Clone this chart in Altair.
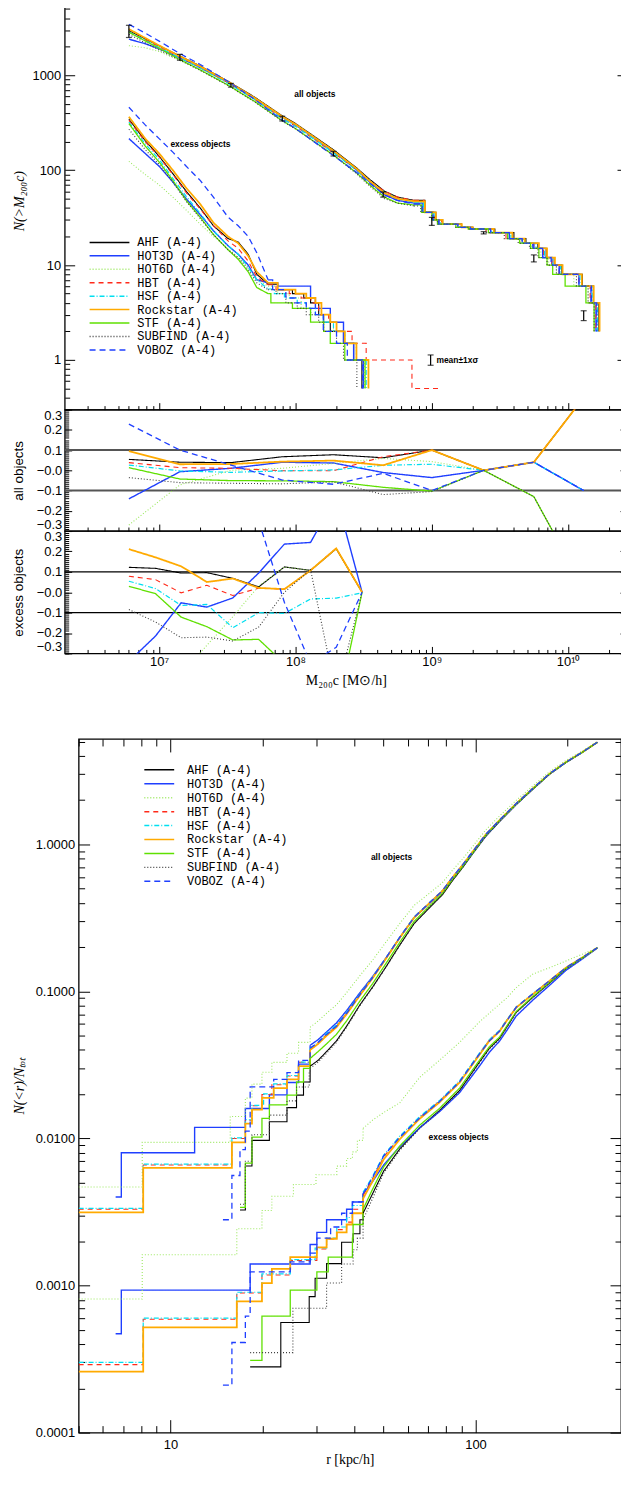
import altair as alt
import pandas as pd

FINDERS = ["AHF", "HOT3D", "HOT6D", "HBT", "HSF", "Rockstar", "STF", "SUBFIND", "VOBOZ"]

# ---------------- top figure: N(>M200c) ----------------
M_ALL_SMOOTH = [6.0e6, 7.9e6, 1.0e7, 1.4e7, 2.0e7, 3.2e7, 5.0e7, 7.9e7, 1.0e8, 1.26e8, 1.9e8, 2.8e8, 3.5e8, 4.5e8, 5.6e8, 7.4e8]
N_ALL_SMOOTH = {
    "AHF":      [2950, 2420, 2040, 1610, 1250, 865, 590, 378, 310, 247, 164, 106, 80, 60, 52, 48],
    "HOT3D":    [2400, 2150, 1900, 1540, 1205, 840, 575, 368, 300, 238, 157, 101, 75, 55, 48, 45],
    "HOT6D":    [2050, 1950, 1780, 1440, 1170, 830, 563, 360, 297, 236, 157, 103, 78, 59, 51, 46],
    "HBT":      [2900, 2370, 1990, 1570, 1215, 838, 560, 354, 290, 230, 152, 101, 77, 60, 52, 48],
    "HSF":      [2870, 2340, 1960, 1545, 1195, 822, 558, 354, 290, 230, 152, 100, 76, 57, 50, 46],
    "Rockstar": [3070, 2470, 2060, 1600, 1240, 856, 580, 372, 305, 242, 160, 104, 77, 57, 50, 47],
    "STF":      [2840, 2300, 1920, 1480, 1140, 788, 532, 336, 274, 218, 144, 94, 70, 52, 45, 43],
    "SUBFIND":  [2700, 2200, 1840, 1455, 1125, 780, 525, 332, 272, 216, 144, 92, 68, 50, 45, 42],
    "VOBOZ":    [3440, 2780, 2290, 1710, 1300, 860, 560, 340, 276, 217, 142, 95, 73, 55, 48, 44],
}
N_ALL_STEPS = [36, 30, 27, 25, 24, 22, 19, 17, 15, 12, 10, 8, 6, 4, 2]
M_ALL_STEPS = {
    "AHF":      [8.9e8, 1.07e9, 1.2e9, 1.65e9, 2.0e9, 2.9e9, 4.0e9, 4.9e9, 6.0e9, 6.9e9, 7.9e9, 9.0e9, 1.27e10, 1.53e10, 1.68e10],
    "HOT3D":    [8.6e8, 1.02e9, 1.12e9, 1.55e9, 1.9e9, 2.7e9, 3.7e9, 4.6e9, 5.5e9, 6.5e9, 7.6e9, 8.6e9, 1.2e10, 1.47e10, 1.6e10],
    "HOT6D":    [8.6e8, 1.03e9, 1.14e9, 1.58e9, 1.95e9, 2.6e9, 3.6e9, 4.5e9, 5.4e9, 6.3e9, 7.2e9, 8.2e9, 1.1e10, 1.4e10, 1.55e10],
    "HBT":      [8.8e8, 1.05e9, 1.18e9, 1.62e9, 1.98e9, 2.5e9, 3.5e9, 4.4e9, 5.6e9, 6.6e9, 7.6e9, 8.6e9, 1.2e10, 1.45e10, 1.6e10],
    "HSF":      [8.7e8, 1.04e9, 1.16e9, 1.6e9, 1.95e9, 2.75e9, 3.8e9, 4.7e9, 5.8e9, 6.7e9, 7.7e9, 8.8e9, 1.22e10, 1.5e10, 1.64e10],
    "Rockstar": [8.9e8, 1.07e9, 1.2e9, 1.66e9, 2.0e9, 2.85e9, 3.9e9, 4.8e9, 6.1e9, 7.0e9, 8.0e9, 9.1e9, 1.26e10, 1.54e10, 1.7e10],
    "STF":      [8.4e8, 1.0e9, 1.1e9, 1.5e9, 1.85e9, 2.6e9, 3.6e9, 4.4e9, 5.3e9, 6.1e9, 7.0e9, 7.7e9, 9.5e9, 1.35e10, 1.55e10],
    "SUBFIND":  [8.3e8, 1.0e9, 1.1e9, 1.5e9, 1.85e9, 2.5e9, 3.4e9, 4.3e9, 5.2e9, 6.0e9, 7.0e9, 8.2e9, 1.15e10, 1.4e10, 1.55e10],
    "VOBOZ":    [8.5e8, 1.02e9, 1.13e9, 1.56e9, 1.92e9, 2.7e9, 3.7e9, 4.6e9, 5.6e9, 6.5e9, 7.5e9, 8.6e9, 1.2e10, 1.48e10, 1.62e10],
}
M_EXC_SMOOTH = [6.0e6, 7.9e6, 1.0e7, 1.26e7, 1.58e7, 2.0e7, 2.5e7, 3.2e7, 3.8e7, 4.5e7, 5.2e7, 6.3e7]
N_EXC_SMOOTH = {
    "AHF":      [345, 205, 140, 92, 60, 40, 26, 19, 17.5, 13, 8, 6.3],
    "HOT3D":    [215, 150, 110, 75, 50, 34, 23, 16, 13, 10, 7, 6.5],
    "HOT6D":    [124, 90, 70, 52, 38, 27, 20, 15, 12, 9.5, 7, 6],
    "HBT":      [335, 200, 138, 90, 58, 39, 26, 18, 15, 11, 7.5, 6.2],
    "HSF":      [320, 190, 130, 82, 53, 35, 23, 16, 13, 9.5, 7, 5.6],
    "Rockstar": [365, 215, 150, 100, 65, 44, 28, 20, 17, 12.5, 8.5, 6.5],
    "STF":      [310, 180, 122, 78, 48, 32, 21, 14.5, 11.5, 8.5, 5.8, 5.0],
    "SUBFIND":  [270, 165, 115, 75, 47, 31, 21, 14.5, 12, 9, 6.5, 5.5],
    "VOBOZ":    [460, 300, 215, 155, 110, 78, 52, 32, 26, 20, 13.5, 7],
}
M_EXC_STEPS = {
    "AHF":      [7.4e7, 9.5e7, 1.15e8, 1.29e8, 1.48e8, 1.61e8, 1.8e8, 2.25e8, 2.67e8, 3.07e8],
    "HOT3D":    [7.4e7, 1.29e8, 1.4e8, 1.8e8, 2.25e8, 2.67e8, 3.15e8],
    "HOT6D":    [7.4e7, 9.0e7, 1.1e8, 1.3e8, 1.6e8, 1.9e8, 2.3e8, 2.8e8, 3.2e8],
    "HBT":      [7.2e7, 9.0e7, 1.1e8, 1.3e8, 1.48e8, 1.75e8, 2.0e8, 2.6e8, 3.3e8, 7.15e8, 1.14e9],
    "HSF":      [7.0e7, 8.3e7, 1.03e8, 1.2e8, 1.4e8, 1.6e8, 1.9e8, 2.3e8, 2.8e8, 3.3e8],
    "Rockstar": [7.4e7, 1.0e8, 1.2e8, 1.4e8, 1.55e8, 1.8e8, 2.0e8, 2.3e8, 2.8e8, 3.43e8],
    "STF":      [6.6e7, 9.5e7, 1.29e8, 1.61e8, 1.8e8, 2.3e8, 3.24e8],
    "SUBFIND":  [7.2e7, 8.5e7, 1.03e8, 1.2e8, 1.48e8, 1.61e8, 2.0e8, 2.25e8, 2.82e8],
    "VOBOZ":    [6.8e7, 8.5e7, 1.0e8, 1.2e8, 1.4e8, 1.6e8, 2.0e8, 2.4e8, 3.1e8],
}
N_EXC_STEPS = {
    "AHF":      [5.5, 5.0, 4.5, 4.0, 3.0, 2.5, 2.0, 1.5, 1.0, 0.5],
    "HOT3D":    [6.0, 4.5, 3.5, 2.5, 1.5, 1.0, 0.5],
    "HOT6D":    [5.0, 4.5, 3.5, 3.0, 2.5, 2.0, 1.5, 1.0, 0.5],
    "HBT":      [5.5, 5.0, 4.5, 4.0, 3.0, 2.5, 2.0, 1.5, 1.0, 0.5, 0.5],
    "HSF":      [5.0, 4.5, 4.0, 3.5, 3.0, 2.5, 2.0, 1.5, 1.0, 0.5],
    "Rockstar": [5.5, 5.0, 4.5, 4.0, 3.0, 2.5, 2.0, 1.5, 1.0, 0.5],
    "STF":      [4.0, 3.5, 2.5, 2.0, 1.5, 1.0, 0.5],
    "SUBFIND":  [5.0, 4.0, 3.5, 3.0, 2.5, 2.0, 1.5, 1.0, 0.5],
    "VOBOZ":    [5.5, 4.5, 4.0, 3.5, 3.0, 2.0, 1.5, 1.0, 0.5],
}
# mean +/- 1 sigma bars (last one is the key sample)
ERR_M = [6.0e6, 1.42e7, 3.36e7, 8.0e7, 1.9e8, 4.4e8, 1.0e9, 2.4e9, 5.6e9, 1.3e10, 9.8e8]
ERR_LO = [2500, 1440, 750, 330, 141, 52, 26.2, 21.3, 10.8, 2.6, 0.88]
ERR_HI = [3360, 1660, 821, 370, 158, 59, 31.8, 22.5, 12.8, 3.3, 1.13]

# residual panels
M_RES_ALL = [6.0e6, 1.42e7, 3.36e7, 8.0e7, 1.9e8, 4.4e8, 1.0e9, 2.4e9, 5.6e9, 1.3e10]
RES_ALL = {
    "AHF":      [0.054, 0.040, 0.038, 0.067, 0.077, 0.062, 0.10, 0.0, 0.04, 0.36],
    "HOT3D":    [-0.141, -0.007, 0.010, 0.040, 0.036, -0.011, -0.036, 0.0, 0.04, -0.10],
    "HOT6D":    [-0.27, -0.072, 0.0, 0.010, 0.034, 0.059, 0.043, 0.0, -0.13, -0.58],
    "HBT":      [0.038, 0.013, 0.010, -0.002, -0.002, 0.067, 0.10, 0.0, 0.04, 0.36],
    "HSF":      [0.026, -0.003, -0.010, -0.003, 0.002, 0.025, 0.030, 0.0, 0.04, -0.10],
    "Rockstar": [0.095, 0.030, 0.031, 0.043, 0.048, 0.025, 0.10, 0.0, 0.04, 0.36],
    "STF":      [0.013, -0.043, -0.051, -0.052, -0.056, -0.084, -0.103, 0.0, -0.13, -0.58],
    "SUBFIND":  [-0.036, -0.061, -0.064, -0.067, -0.057, -0.12, -0.105, 0.0, -0.13, -0.58],
    "VOBOZ":    [0.228, 0.10, 0.026, -0.048, -0.069, -0.015, -0.10, 0.0, 0.04, -0.10],
}
M_RES_EXC = [6.0e6, 9.4e6, 1.45e7, 2.24e7, 3.47e7, 5.37e7, 8.3e7, 1.29e8, 1.99e8, 3.08e8]
RES_EXC = {
    "AHF":      [0.122, 0.117, 0.094, 0.096, 0.068, 0.026, 0.124, 0.107, 0.213, 0.0],
    "HOT3D":    [-0.34, -0.215, -0.052, -0.073, -0.028, 0.094, 0.236, 0.244, 0.47, 0.0],
    "HOT6D":    [-0.65, -0.55, -0.40, -0.26, -0.12, 0.03, 0.124, 0.107, 0.213, 0.0],
    "HBT":      [0.078, 0.062, -0.003, 0.034, -0.016, 0.020, 0.015, 0.107, 0.215, 0.0],
    "HSF":      [0.054, 0.018, -0.065, -0.060, -0.174, -0.10, -0.104, -0.033, -0.029, -0.003],
    "Rockstar": [0.211, 0.171, 0.127, 0.050, 0.067, 0.021, 0.015, 0.107, 0.215, 0.0],
    "STF":      [0.029, -0.007, -0.122, -0.169, -0.234, -0.231, -0.35, -0.50, -0.60, 0.0],
    "SUBFIND":  [-0.085, -0.146, -0.223, -0.220, -0.239, -0.171, 0.0, 0.11, -0.50, 0.0],
    "VOBOZ":    [0.45, 0.50, 0.55, 0.60, 0.65, 0.35, -0.05, -0.35, -0.27, 0.0],
}
REF_LINES = [0.1, -0.1]
TOP_TEXT = ["all objects", "excess objects", "mean\u00b11x\u03c3"]
TOP_TEXT_M = [9.8e7, 1.21e7, 1.08e9]
TOP_TEXT_N = [630, 190, 1.0]

# ---------------- bottom figure: N(<r)/N_tot ----------------
R_ALL_TAIL = [28.7, 30.5, 32.5, 35, 37.8, 41.8, 46, 51, 56.5, 63, 72, 78, 84, 91, 98, 108, 120, 136, 154, 175, 198, 224, 251]
N_ALL_TAIL = {
    "AHF":      [0.031, 0.034, 0.039, 0.046, 0.058, 0.081, 0.107, 0.148, 0.207, 0.29, 0.385, 0.455, 0.565, 0.70, 0.865, 1.13, 1.43, 1.86, 2.36, 3.0, 3.6, 4.22, 4.94],
    "HOT3D":    [0.043, 0.047, 0.053, 0.061, 0.074, 0.098, 0.126, 0.170, 0.232, 0.318, 0.41, 0.478, 0.585, 0.715, 0.875, 1.14, 1.44, 1.87, 2.37, 3.0, 3.6, 4.22, 4.94],
    "HOT6D":    [0.057, 0.063, 0.071, 0.081, 0.098, 0.128, 0.163, 0.218, 0.29, 0.385, 0.48, 0.55, 0.665, 0.80, 0.97, 1.25, 1.56, 1.99, 2.49, 3.12, 3.72, 4.32, 5.0],
    "HBT":      [0.041, 0.045, 0.051, 0.058, 0.071, 0.095, 0.124, 0.169, 0.233, 0.32, 0.415, 0.485, 0.595, 0.73, 0.895, 1.165, 1.465, 1.895, 2.395, 3.02, 3.62, 4.23, 4.94],
    "HSF":      [0.041, 0.045, 0.052, 0.059, 0.072, 0.096, 0.125, 0.170, 0.235, 0.322, 0.417, 0.487, 0.597, 0.732, 0.897, 1.167, 1.467, 1.897, 2.397, 3.02, 3.62, 4.23, 4.94],
    "Rockstar": [0.040, 0.044, 0.050, 0.057, 0.070, 0.094, 0.123, 0.168, 0.232, 0.318, 0.413, 0.483, 0.593, 0.728, 0.893, 1.163, 1.463, 1.893, 2.393, 3.02, 3.62, 4.23, 4.94],
    "STF":      [0.035, 0.039, 0.044, 0.051, 0.063, 0.086, 0.113, 0.156, 0.216, 0.30, 0.395, 0.465, 0.575, 0.71, 0.875, 1.15, 1.45, 1.88, 2.38, 3.01, 3.61, 4.22, 4.94],
    "SUBFIND":  [0.030, 0.033, 0.038, 0.045, 0.057, 0.080, 0.106, 0.147, 0.205, 0.29, 0.39, 0.46, 0.57, 0.70, 0.87, 1.14, 1.44, 1.87, 2.37, 3.0, 3.6, 4.22, 4.94],
    "VOBOZ":    [0.041, 0.045, 0.051, 0.058, 0.071, 0.095, 0.124, 0.170, 0.234, 0.32, 0.415, 0.485, 0.595, 0.73, 0.895, 1.165, 1.465, 1.895, 2.395, 3.02, 3.62, 4.23, 4.94],
}
R_ALL_HEAD = {
    "AHF":      [16.9, 17.6, 18.5, 21.1, 24.1, 25.9, 27.3],
    "HOT3D":    [6.61, 6.90, 12.0, 17.6, 21.1, 24.1, 26.3],
    "HOT6D":    [5.0, 8.08, 15.7, 17.6, 18.5, 19.95, 21.5, 24.1, 26.3],
    "HBT":      [5.0, 8.14, 15.9, 17.6, 18.5, 19.95, 21.5, 24.1, 26.3],
    "HSF":      [5.0, 8.14, 15.9, 17.6, 18.5, 20.2, 21.8, 24.1, 26.3],
    "Rockstar": [5.0, 8.14, 15.9, 17.6, 18.5, 19.95, 21.8, 24.1, 26.3],
    "STF":      [16.9, 17.6, 18.5, 19.95, 21.1, 24.1, 25.9, 27.3],
    "SUBFIND":  [16.9, 17.6, 18.5, 21.1, 24.1, 25.9, 28.5],
    "VOBOZ":    [14.86, 15.9, 16.9, 17.6, 18.25, 21.8, 24.1, 26.3],
}
N_ALL_HEAD = {
    "AHF":      [0.00326, 0.0065, 0.0097, 0.0130, 0.0162, 0.0197, 0.0242],
    "HOT3D":    [0.0040, 0.0080, 0.0119, 0.0160, 0.0198, 0.0240, 0.032],
    "HOT6D":    [0.00468, 0.0094, 0.0141, 0.0188, 0.0234, 0.0282, 0.0329, 0.038, 0.045],
    "HBT":      [0.0033, 0.0066, 0.0100, 0.0133, 0.0167, 0.0199, 0.0232, 0.0266, 0.033],
    "HSF":      [0.00335, 0.0067, 0.0101, 0.0134, 0.0168, 0.0201, 0.0235, 0.0268, 0.033],
    "Rockstar": [0.00314, 0.0063, 0.0094, 0.0126, 0.0157, 0.0189, 0.0220, 0.0252, 0.031],
    "STF":      [0.0034, 0.0068, 0.0102, 0.0137, 0.0169, 0.0197, 0.0242, 0.030],
    "SUBFIND":  [0.00357, 0.0070, 0.0106, 0.0144, 0.018, 0.0224, 0.0282],
    "VOBOZ":    [0.0028, 0.0056, 0.0084, 0.0112, 0.0224, 0.0252, 0.028, 0.034],
}
R_EXC_TAIL = [42.8, 45.7, 50, 56.5, 65.6, 76.2, 88.7, 103, 111, 120, 126.5, 136, 154, 175, 198, 224, 251]
N_EXC_TAIL = {
    "AHF":      [0.0031, 0.0041, 0.0060, 0.0085, 0.0118, 0.0155, 0.0212, 0.033, 0.041, 0.048, 0.057, 0.072, 0.091, 0.114, 0.142, 0.168, 0.198],
    "HOT3D":    [0.0042, 0.0050, 0.0066, 0.0088, 0.0118, 0.0152, 0.0205, 0.031, 0.0385, 0.046, 0.054, 0.068, 0.087, 0.110, 0.139, 0.166, 0.197],
    "HOT6D":    [0.0117, 0.0132, 0.0150, 0.0175, 0.026, 0.034, 0.045, 0.062, 0.071, 0.082, 0.090, 0.106, 0.131, 0.145, 0.161, 0.179, 0.198],
    "HBT":      [0.0041, 0.0052, 0.0075, 0.0102, 0.0139, 0.0179, 0.0244, 0.0377, 0.0465, 0.054, 0.0634, 0.078, 0.096, 0.118, 0.145, 0.170, 0.198],
    "HSF":      [0.0043, 0.0054, 0.0077, 0.0104, 0.0141, 0.0181, 0.0247, 0.038, 0.047, 0.0545, 0.064, 0.0785, 0.0965, 0.118, 0.145, 0.170, 0.198],
    "Rockstar": [0.0039, 0.0050, 0.0072, 0.0099, 0.0136, 0.0176, 0.024, 0.037, 0.046, 0.0535, 0.063, 0.0775, 0.0955, 0.118, 0.145, 0.170, 0.198],
    "STF":      [0.0033, 0.0044, 0.0064, 0.0089, 0.0123, 0.0160, 0.022, 0.034, 0.042, 0.049, 0.058, 0.073, 0.092, 0.115, 0.143, 0.169, 0.198],
    "SUBFIND":  [0.0028, 0.0038, 0.0058, 0.0083, 0.0117, 0.0153, 0.021, 0.0325, 0.0405, 0.0475, 0.0565, 0.0715, 0.0905, 0.114, 0.142, 0.168, 0.198],
    "VOBOZ":    [0.0042, 0.0053, 0.0076, 0.0102, 0.0138, 0.0178, 0.0243, 0.0375, 0.046, 0.0538, 0.063, 0.078, 0.096, 0.118, 0.145, 0.170, 0.198],
}
R_EXC_HEAD = {
    "AHF":      [18.25, 23.0, 28.5, 29.8, 32.5, 36.4, 39.7, 41.8],
    "HOT3D":    [6.61, 6.90, 18.25, 28.7, 30.2, 32.5, 37.8, 39.5],
    "HOT6D":    [5.0, 8.08, 16.5, 19.95, 21.5, 25.3, 30.0, 35.1, 37.8, 39.5, 41.0],
    "HBT":      [5.0, 8.14, 16.5, 19.95, 24.7, 30.2, 32.5, 35.1, 37.8, 39.5],
    "HSF":      [5.0, 8.14, 16.5, 19.95, 24.7, 29.8, 32.5, 35.1, 37.8, 39.5],
    "Rockstar": [5.0, 8.14, 16.5, 19.95, 21.5, 24.7, 30.2, 32.5, 35.1, 37.8, 39.5],
    "STF":      [18.25, 19.95, 24.7, 30.2, 32.9, 39.5, 39.7],
    "SUBFIND":  [18.25, 25.2, 32.5, 36.4, 39.7, 41.0],
    "VOBOZ":    [14.86, 15.9, 17.6, 18.25, 24.7, 28.7, 30.2, 33.5, 36.4, 39.5],
}
N_EXC_HEAD = {
    "AHF":      [0.00028, 0.00056, 0.00084, 0.00112, 0.00141, 0.00197, 0.00225, 0.0028],
    "HOT3D":    [0.00047, 0.00093, 0.0014, 0.0019, 0.0023, 0.0028, 0.0033, 0.0037],
    "HOT6D":    [0.00081, 0.00162, 0.00243, 0.00324, 0.00405, 0.00486, 0.00567, 0.00648, 0.0073, 0.0081, 0.0097],
    "HBT":      [0.00029, 0.00059, 0.00089, 0.00118, 0.00148, 0.00177, 0.00207, 0.0024, 0.0027, 0.0033],
    "HSF":      [0.0003, 0.0006, 0.0009, 0.0012, 0.0015, 0.0018, 0.0021, 0.0025, 0.0029, 0.0035],
    "Rockstar": [0.00026, 0.00052, 0.00078, 0.00104, 0.0013, 0.00156, 0.00182, 0.00208, 0.0023, 0.0026, 0.0031],
    "STF":      [0.00031, 0.00062, 0.00093, 0.00124, 0.00156, 0.0021, 0.0026],
    "SUBFIND":  [0.00035, 0.0007, 0.00104, 0.0014, 0.00175, 0.0021],
    "VOBOZ":    [0.00021, 0.00041, 0.00062, 0.00124, 0.00145, 0.00166, 0.0021, 0.0025, 0.0031, 0.0037],
}
BOT_TEXT = ["all objects", "excess objects"]
BOT_TEXT_R = [45.4, 70.2]
BOT_TEXT_N = [0.826, 0.0103]

# ---------------- styles ----------------
COLORS = ["#000000", "#1f3fff", "#9be85e", "#ff2a1a", "#00dff0", "#ffaa00", "#5fe000", "#3c3c3c", "#1f3fff"]
DASHES = [[1, 0], [1, 0], [1, 2], [5, 4], [5, 2, 1, 2], [1, 0], [1, 0], [1, 2], [6, 4]]
LINE_W = {"AHF": 1.1, "HOT3D": 1.4, "HOT6D": 1.1, "HBT": 1.1, "HSF": 1.2, "Rockstar": 1.8,
          "STF": 1.3, "SUBFIND": 1.1, "VOBOZ": 1.3}
SANS = "Liberation Sans"
SERIF = "Liberation Serif"

color_scale = alt.Scale(domain=FINDERS, range=COLORS)
dash_scale = alt.Scale(domain=FINDERS, range=DASHES)

X_TOP = alt.Scale(type="log", domain=[2.03e6, 2.7e10], nice=False)
Y_MAIN = alt.Scale(type="log", domain=[0.3, 7600], nice=False)
Y_RES = alt.Scale(domain=[-0.3, 0.3], nice=False, zero=False)
X_BOT = alt.Scale(type="log", domain=[5, 300], nice=False)
Y_BOT = alt.Scale(type="log", domain=[1e-4, 5.2], nice=False)


def log_ticks(lo, hi, e0, e1):
    major = [10.0 ** e for e in range(e0, e1 + 1) if lo <= 10.0 ** e <= hi]
    minor = [round(k * 10.0 ** e, 8) for e in range(e0, e1 + 1) for k in range(2, 10)
             if lo <= k * 10.0 ** e <= hi]
    return major, minor


XT_MAJ, XT_MIN = log_ticks(2.03e6, 2.7e10, 6, 10)
YM_MAJ, YM_MIN = log_ticks(0.3, 7600, -1, 3)
XB_MAJ, XB_MIN = log_ticks(5, 300, 0, 2)
YB_MAJ, YB_MIN = log_ticks(1e-4, 5.2, -4, 0)
YR_MAJ = [-0.3, -0.2, -0.1, 0.0, 0.1, 0.2, 0.3]
YR_MIN = [round(-0.3 + 0.01 * k, 2) for k in range(61)]


def series_rows(finder, xs, ys, key):
    return [dict(finder=finder, x=x, y=y, key=key, i=i, w=LINE_W[finder])
            for i, (x, y) in enumerate(zip(xs, ys))]


def line_enc(xs, ys, legend):
    return dict(
        x=alt.X("x:Q", scale=xs, axis=None),
        y=alt.Y("y:Q", scale=ys, axis=None),
        color=alt.Color("finder:N", scale=color_scale, legend=legend),
        strokeDash=alt.StrokeDash("finder:N", scale=dash_scale, legend=legend),
        strokeWidth=alt.StrokeWidth("w:Q", scale=None, legend=None),
        detail="key:N",
        order="i:Q",
    )


def ax(orient, values, size, **kw):
    base = dict(orient=orient, values=values, tickSize=size, offset=-size, domain=False, grid=False,
                ticks=True, tickColor="black", tickWidth=1, labels=False, title=None,
                minExtent=0, maxExtent=200)
    base.update(kw)
    return alt.Axis(**base)


def axis_layer(xs, ys, x0, y0, xaxis, yaxis):
    d = pd.DataFrame({"ax": [x0], "ay": [y0]})
    return alt.Chart(d).mark_point(opacity=0, size=1).encode(
        x=alt.X("ax:Q", scale=xs, axis=xaxis),
        y=alt.Y("ay:Q", scale=ys, axis=yaxis),
    )


def legend_spec(x, y, path, offset, row_pad):
    return alt.Legend(title=None, orient="none", legendX=x, legendY=y, symbolType=path,
                      symbolSize=100, symbolStrokeWidth=1.5, labelFont="Liberation Mono",
                      labelFontSize=12, labelColor="black", labelExpr="datum.label + ' (A-4)'",
                      rowPadding=row_pad, labelOffset=offset, padding=0)


def spacer(w, h):
    d = pd.DataFrame({"s": [0]})
    return alt.Chart(d).mark_point(opacity=0, size=1).encode(
        x=alt.X("s:Q", axis=None), y=alt.Y("s:Q", axis=None)
    ).properties(width=w, height=h, view=alt.ViewBackground(stroke="transparent"))


# ---------------- build top main panel ----------------
smooth_rows, stair_rows = [], []
for f in FINDERS:
    smooth_rows += series_rows(f, M_ALL_SMOOTH, N_ALL_SMOOTH[f], f + "-all-s")
    smooth_rows += series_rows(f, M_EXC_SMOOTH, N_EXC_SMOOTH[f], f + "-exc-s")
    stair_rows += series_rows(f, [M_ALL_SMOOTH[-1]] + M_ALL_STEPS[f],
                              [N_ALL_SMOOTH[f][-1]] + N_ALL_STEPS, f + "-all-t")
    stair_rows += series_rows(f, [M_EXC_SMOOTH[-1]] + M_EXC_STEPS[f],
                              [N_EXC_SMOOTH[f][-1]] + N_EXC_STEPS[f], f + "-exc-t")
smooth_df = pd.DataFrame(smooth_rows)
stair_df = pd.DataFrame(stair_rows)
err_df = pd.DataFrame({"x": ERR_M, "lo": ERR_LO, "hi": ERR_HI})
cap_df = pd.DataFrame({"x": ERR_M + ERR_M, "y": ERR_LO + ERR_HI})
ttop_df = pd.DataFrame({"x": TOP_TEXT_M, "y": TOP_TEXT_N, "t": TOP_TEXT})

top_legend = legend_spec(39, 246, "M-4,0H4", 22, 1.5)

W_TOP, H_MAIN, H_R1, H_R2 = 565, 420, 122, 123

main = alt.layer(
    alt.Chart(smooth_df).mark_line(clip=True).encode(**line_enc(X_TOP, Y_MAIN, top_legend)),
    alt.Chart(stair_df).mark_line(clip=True, interpolate="step-after").encode(**line_enc(X_TOP, Y_MAIN, top_legend)),
    alt.Chart(err_df).mark_rule(color="black", strokeWidth=1.2).encode(
        x=alt.X("x:Q", scale=X_TOP, axis=None), y=alt.Y("lo:Q", scale=Y_MAIN, axis=None), y2="hi:Q"),
    alt.Chart(cap_df).mark_tick(orient="horizontal", size=6, thickness=1.2, color="black").encode(
        x=alt.X("x:Q", scale=X_TOP, axis=None), y=alt.Y("y:Q", scale=Y_MAIN, axis=None)),
    alt.Chart(ttop_df).mark_text(align="left", baseline="middle", font=SANS, fontSize=8.5,
                                 fontWeight="bold", color="black").encode(
        x=alt.X("x:Q", scale=X_TOP, axis=None), y=alt.Y("y:Q", scale=Y_MAIN, axis=None), text="t:N"),
    axis_layer(X_TOP, Y_MAIN, 1e8, 10, ax("bottom", XT_MAJ, 7),
               ax("left", YM_MAJ, 10, labels=True, format="d", labelFont=SANS, labelFontSize=13,
                  labelColor="black", labelPadding=4, title="N(>M\u2082\u2080\u2080c)", titleFont=SERIF,
                  titleFontStyle="italic", titleFontWeight="normal", titleFontSize=14, titleColor="black",
                  titleAngle=270, titleX=-55, titleY=H_MAIN / 2, titleAlign="center", titleBaseline="middle")),
    axis_layer(X_TOP, Y_MAIN, 1e8, 10, ax("bottom", XT_MIN, 4), ax("left", YM_MIN, 5)),
    axis_layer(X_TOP, Y_MAIN, 1e8, 10, ax("top", XT_MAJ, 7), ax("right", YM_MAJ, 10)),
    axis_layer(X_TOP, Y_MAIN, 1e8, 10, ax("top", XT_MIN, 4), ax("right", YM_MIN, 5)),
).properties(width=W_TOP, height=H_MAIN).resolve_axis(x="independent", y="independent")

RES_LABEL = "datum.value > 0.001 ? format(datum.value, '.1f') : '\u2212' + format(abs(datum.value), '.1f')"
XT_LABEL = ("'10' + ['\u2070','\u00b9','\u00b2','\u00b3','\u2074','\u2075','\u2076','\u2077','\u2078','\u2079',"
            "'\u00b9\u2070'][round(log(datum.value)/LN10)]")


def res_panel(mx, res, title, height, rule_color, rule_w, bottom_axis):
    rows = []
    for f in FINDERS:
        rows += series_rows(f, mx, res[f], f + "-r")
    df = pd.DataFrame(rows)
    rdf = pd.DataFrame({"v": REF_LINES})
    return alt.layer(
        alt.Chart(rdf).mark_rule(color=rule_color, strokeWidth=rule_w).encode(
            y=alt.Y("v:Q", scale=Y_RES, axis=None)),
        alt.Chart(df).mark_line(clip=True).encode(**line_enc(X_TOP, Y_RES, None)),
        axis_layer(X_TOP, Y_RES, 1e8, 0, bottom_axis,
                   ax("left", YR_MAJ, 7, labels=True, labelExpr=RES_LABEL, labelFont=SANS, labelFontSize=13,
                      labelColor="black", labelPadding=3, labelFlush=True, labelFlushOffset=0,
                      title=title, titleFont=SANS, titleFontWeight="normal",
                      titleFontSize=13.5, titleColor="black", titleAngle=270, titleX=-53, titleY=height / 2,
                      titleAlign="center", titleBaseline="middle")),
        axis_layer(X_TOP, Y_RES, 1e8, 0, ax("bottom", XT_MIN, 4), ax("left", YR_MIN, 4)),
        axis_layer(X_TOP, Y_RES, 1e8, 0, None, ax("right", YR_MAJ, 7)),
        axis_layer(X_TOP, Y_RES, 1e8, 0, None, ax("right", YR_MIN, 4)),
    ).properties(width=W_TOP, height=height).resolve_axis(x="independent", y="independent")


res_all = res_panel(M_RES_ALL, RES_ALL, "all objects", H_R1, "#555555", 2.0, ax("bottom", XT_MAJ, 7))
res_exc = res_panel(M_RES_EXC, RES_EXC, "excess objects", H_R2, "black", 1.3,
                    ax("bottom", XT_MAJ, 7, labels=True, labelExpr=XT_LABEL, labelFont=SANS, labelFontSize=13,
                       labelColor="black", labelPadding=2, title="M\u2082\u2080\u2080c [M\u2299/h]", titleFont=SERIF,
                       titleFontWeight="normal", titleFontSize=14, titleColor="black", titlePadding=5))

# ---------------- bottom figure ----------------
step_rows, tail_rows = [], []
for f in FINDERS:
    step_rows += series_rows(f, R_ALL_HEAD[f] + [R_ALL_TAIL[0]], N_ALL_HEAD[f] + [N_ALL_TAIL[f][0]], f + "-a-h")
    step_rows += series_rows(f, R_EXC_HEAD[f] + [R_EXC_TAIL[0]], N_EXC_HEAD[f] + [N_EXC_TAIL[f][0]], f + "-e-h")
    tail_rows += series_rows(f, R_ALL_TAIL, N_ALL_TAIL[f], f + "-a-t")
    tail_rows += series_rows(f, R_EXC_TAIL, N_EXC_TAIL[f], f + "-e-t")
step_df = pd.DataFrame(step_rows)
tail_df = pd.DataFrame(tail_rows)
tbot_df = pd.DataFrame({"x": BOT_TEXT_R, "y": BOT_TEXT_N, "t": BOT_TEXT})

W_BOT, H_BOT = 545, 697
bot_legend = legend_spec(75, 25, "M-3,0H3", 22, 2.0)

bottom = alt.layer(
    alt.Chart(step_df).mark_line(clip=True, interpolate="step-after").encode(**line_enc(X_BOT, Y_BOT, bot_legend)),
    alt.Chart(tail_df).mark_line(clip=True).encode(**line_enc(X_BOT, Y_BOT, bot_legend)),
    alt.Chart(tbot_df).mark_text(align="left", baseline="middle", font=SANS, fontSize=8.5,
                                 fontWeight="bold", color="black").encode(
        x=alt.X("x:Q", scale=X_BOT, axis=None), y=alt.Y("y:Q", scale=Y_BOT, axis=None), text="t:N"),
    axis_layer(X_BOT, Y_BOT, 20, 0.01,
               ax("bottom", XB_MAJ, 13, labels=True, format="d", labelFont=SANS, labelFontSize=13,
                  labelColor="black", labelPadding=6, title="r [kpc/h]", titleFont=SERIF,
                  titleFontWeight="normal", titleFontSize=14, titleColor="black", titlePadding=1),
               ax("left", YB_MAJ, 11, labels=True, format=".4f", labelFont=SANS, labelFontSize=13,
                  labelColor="black", labelPadding=4, title="N(<r)/N\u209c\u2092\u209c", titleFont=SERIF,
                  titleFontStyle="italic", titleFontWeight="normal", titleFontSize=14, titleColor="black",
                  titleAngle=270, titleX=-70, titleY=H_BOT / 2, titleAlign="center", titleBaseline="middle")),
    axis_layer(X_BOT, Y_BOT, 20, 0.01, ax("bottom", XB_MIN, 7), ax("left", YB_MIN, 6)),
    axis_layer(X_BOT, Y_BOT, 20, 0.01, ax("top", XB_MAJ, 13), ax("right", YB_MAJ, 11)),
    axis_layer(X_BOT, Y_BOT, 20, 0.01, ax("top", XB_MIN, 7), ax("right", YB_MIN, 6)),
).properties(width=W_BOT, height=H_BOT).resolve_axis(x="independent", y="independent")

bottom_row = alt.hconcat(spacer(1, 10), bottom, spacing=13, bounds="flush").resolve_legend(
    color="independent", strokeDash="independent")

chart = alt.vconcat(
    main, res_all, res_exc, spacer(10, 86), bottom_row, spacing=0, bounds="flush"
).resolve_legend(
    color="independent", strokeDash="independent"
).properties(
    padding={"left": 3, "top": -22, "right": -8, "bottom": 0}
).configure_view(stroke="black", strokeWidth=1.3)

chart.save("out.html", embed_options={"renderer": "svg", "actions": False})
